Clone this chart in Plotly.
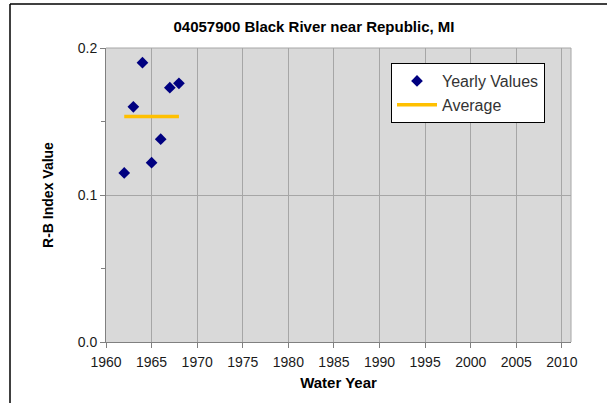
import plotly.graph_objects as go

years = [1962, 1963, 1964, 1965, 1966, 1967, 1968]
rb_values = [0.115, 0.160, 0.190, 0.122, 0.138, 0.173, 0.176]
avg_value = sum(rb_values) / len(rb_values)
avg_years = [1962, 1968]
avg_values = [avg_value, avg_value]

fig = go.Figure()
fig.add_trace(go.Scatter(
    x=years, y=rb_values, mode="markers", name="Yearly Values",
    marker=dict(symbol="diamond", color="#000080", size=9),
))
fig.add_trace(go.Scatter(
    x=avg_years, y=avg_values, mode="lines", name="Average",
    line=dict(color="#FFC000", width=3.5),
))

L, R, T, B = 106, 36, 48, 61
W, H = 607, 403
pw, ph = W - L - R, H - T - B

def px(xp):
    return (xp - L) / pw

def py(yp):
    return (H - B - yp) / ph

FONT = "Arial, Liberation Sans, sans-serif"

fig.update_layout(
    width=W, height=H,
    margin=dict(l=L, r=R, t=T, b=B, pad=0),
    paper_bgcolor="white",
    plot_bgcolor="#D9D9D9",
    font=dict(family=FONT, size=14, color="#1a1a1a"),
    title=dict(text="<b>04057900 Black River near Republic, MI</b>",
               x=314 / W, xanchor="center", y=1 - 27 / H, yanchor="middle",
               font=dict(size=15, color="black")),
    showlegend=True,
    legend=dict(x=px(391), y=py(63), xanchor="left", yanchor="top",
                bgcolor="white", bordercolor="black", borderwidth=1,
                font=dict(size=16, color="#333333"),
                tracegroupgap=0, itemwidth=40),
    xaxis=dict(range=[1960, 2011], tick0=1960, dtick=5, showgrid=True,
               gridcolor="#A6A6A6", gridwidth=1, showline=True, linecolor="#808080",
               linewidth=1, mirror=False, ticks="outside", ticklen=5, tickcolor="#808080",
               ticklabelstandoff=2, zeroline=False,
               title=dict(text="<b>Water Year</b>", font=dict(size=15, color="black"), standoff=8)),
    yaxis=dict(range=[0, 0.2], tick0=0, dtick=0.1, tickformat=".1f", showgrid=True,
               gridcolor="#A6A6A6", gridwidth=1, showline=True, linecolor="#808080",
               linewidth=1, ticks="outside", ticklen=5, tickcolor="#808080",
               zeroline=False,
               minor=dict(dtick=0.05, ticks="outside", ticklen=4, tickcolor="#808080", showgrid=False),
               title=dict(text="<b>R-B Index Value</b>", font=dict(size=14, color="black"), standoff=20)),
    shapes=[
        dict(type="line", xref="paper", yref="paper", x0=0, x1=1, y0=1, y1=1,
             line=dict(color="#A6A6A6", width=1)),
        dict(type="line", xref="paper", yref="paper", x0=1, x1=1, y0=0, y1=1,
             line=dict(color="#A6A6A6", width=1)),
        dict(type="line", xref="paper", yref="paper", x0=px(10), x1=px(607), y0=py(4), y1=py(4),
             line=dict(color="black", width=1.5)),
        dict(type="line", xref="paper", yref="paper", x0=px(10), x1=px(10), y0=py(4), y1=py(403),
             line=dict(color="black", width=1.5)),
    ],
)

fig.write_html("out.html", config={"displayModeBar": False},
               post_script="document.body.style.margin='0';document.body.style.overflow='hidden';")
